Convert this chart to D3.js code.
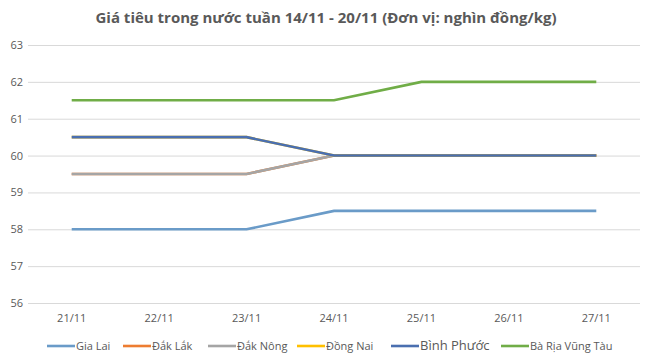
<!DOCTYPE html>
<html><head><meta charset="utf-8">
<script src="https://cdn.jsdelivr.net/npm/d3@7/dist/d3.min.js"></script>
<style>body{margin:0;background:#fff}svg{display:block}</style>
</head><body>
<svg id="c" width="652" height="363"></svg>
<script>
const categories = ["21/11","22/11","23/11","24/11","25/11","26/11","27/11"];
const seriesNames = ["Gia Lai","Đắk Lắk","Đắk Nông","Đồng Nai","Bình Phước","Bà Rịa Vũng Tàu"];
const giaLai   = [58,58,58,58.5,58.5,58.5,58.5];
const dakLak   = [59.5,59.5,59.5,60,60,60,60];
const dakNong  = [59.5,59.5,59.5,60,60,60,60];
const dongNai  = [60.5,60.5,60.5,60,60,60,60];
const binhPhuoc= [60.5,60.5,60.5,60,60,60,60];
const brvt     = [61.5,61.5,61.5,61.5,62,62,62];
const yTicks = [56,57,58,59,60,61,62,63];
const title = "Giá tiêu trong nước tuần 14/11 - 20/11 (Đơn vị: nghìn đồng/kg)";

const colors = ["#6a9bc8","#ed7d31","#a5a5a5","#ffc000","#4a6fb0","#70ad47"];
const allSeries = [giaLai,dakLak,dakNong,dongNai,binhPhuoc,brvt];

const svg = d3.select("#c");
const font = "'Open Sans', sans-serif";
const x = d3.scaleBand().domain(categories).range([28,640]);
const y = d3.scaleLinear().domain([56,63]).range([303,45]);

svg.append("text").attr("x",326).attr("y",23).attr("text-anchor","middle")
  .attr("font-family",font).attr("font-weight","bold").attr("font-size",15)
  .attr("fill","#595959").text(title);

const gy = svg.append("g").attr("transform","translate(28,0)")
  .call(d3.axisLeft(y).tickValues(yTicks).tickFormat(d3.format("d")).tickSize(-612).tickPadding(5));
gy.select(".domain").remove();
gy.selectAll(".tick line").attr("stroke","#d9d9d9");
gy.selectAll(".tick text").attr("font-family",font).attr("font-size",11).attr("fill","#595959");

const gx = svg.append("g").attr("transform","translate(0,303)")
  .call(d3.axisBottom(x).tickSize(0).tickPadding(11));
gx.select(".domain").remove();
gx.selectAll(".tick text").attr("font-family",font).attr("font-size",11).attr("fill","#595959");

const line = d3.line().x((d,i)=>x(categories[i])+x.bandwidth()/2).y(d=>y(d));
allSeries.forEach((s,i)=>{
  svg.append("path").datum(s).attr("d",line).attr("fill","none")
    .attr("stroke",colors[i]).attr("stroke-width",2.6);
});

const legendX = [47,123,208,297,391,501];
const legendSize = [11,11,11,11,13,11];
seriesNames.forEach((n,i)=>{
  const g = svg.append("g").attr("transform",`translate(${legendX[i]},346)`);
  g.append("line").attr("x1",0).attr("x2",28).attr("y1",0).attr("y2",0)
    .attr("stroke",colors[i]).attr("stroke-width",2.6);
  g.append("text").attr("x",29).attr("y",4).attr("font-family",font)
    .attr("font-size",legendSize[i]).attr("fill","#595959").text(n);
});
</script>
</body></html>
